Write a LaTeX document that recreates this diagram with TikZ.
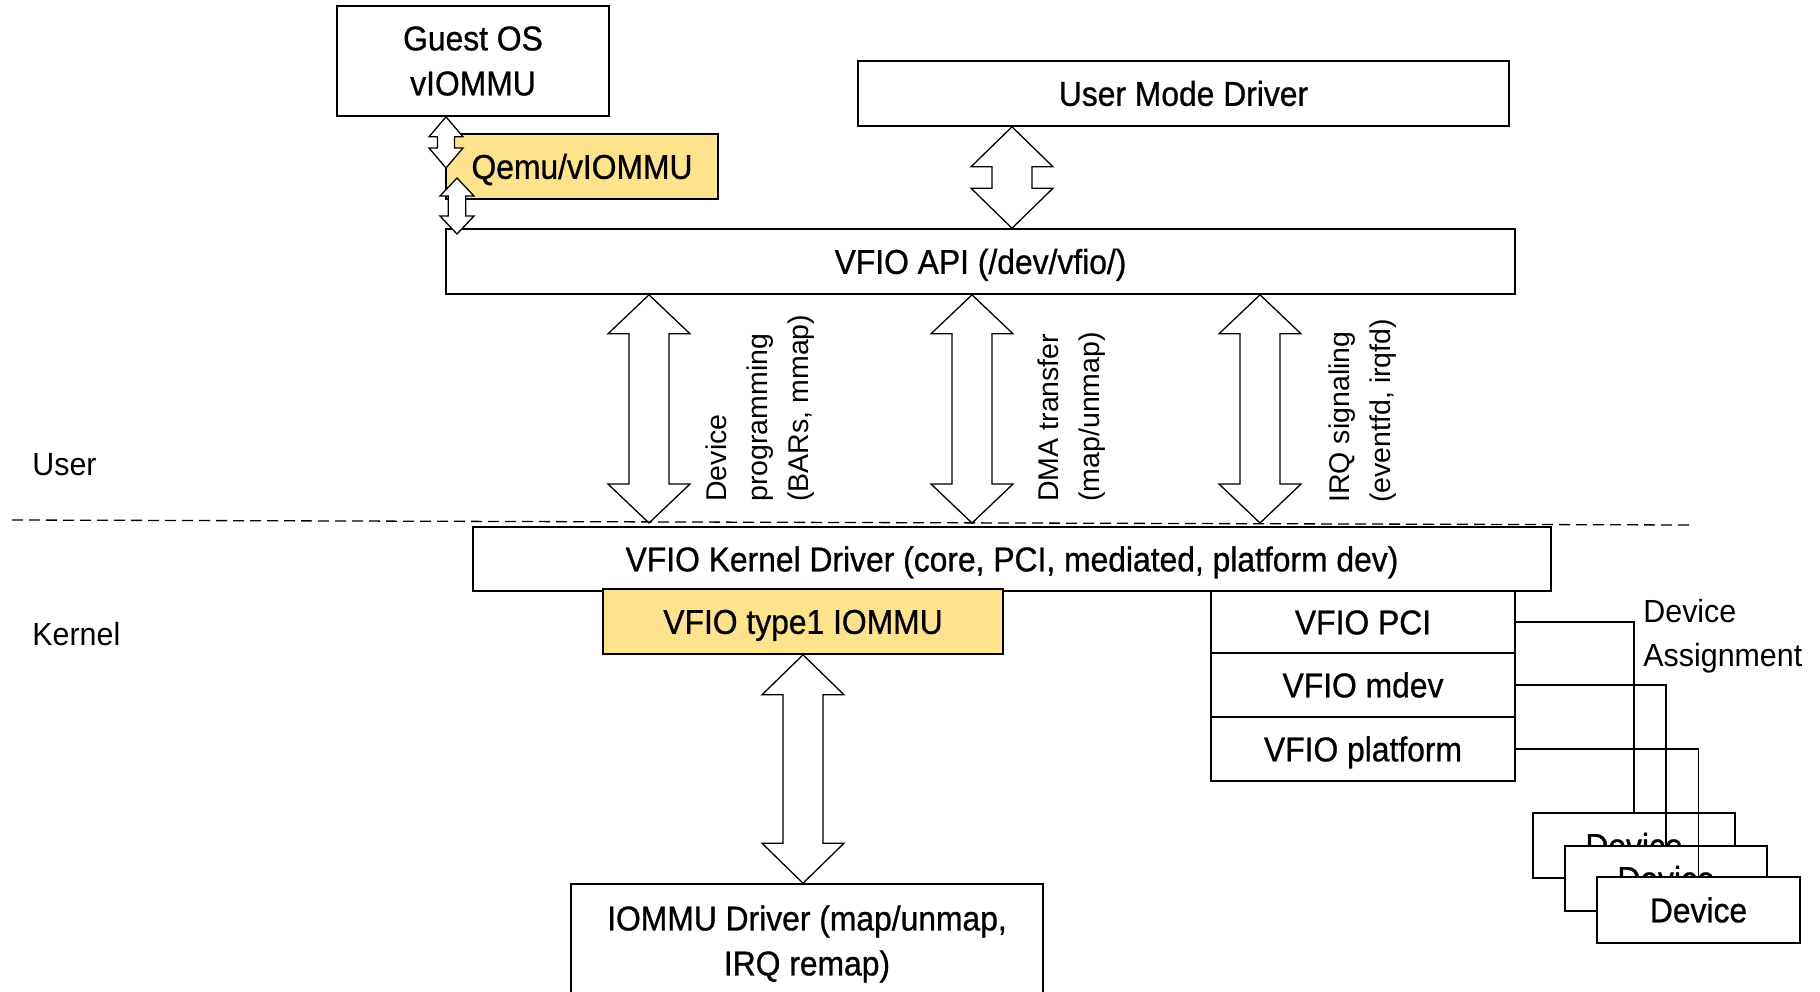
\documentclass[tikz,border=0pt]{standalone}
\usepackage{fontspec}
\setmainfont{Liberation Sans}[FakeStretch=0.95]
\newfontfamily\lblfamily{Liberation Sans}
\newfontfamily\boxfamily{Liberation Sans}[FakeStretch=0.925, FakeBold=0.8]
\usetikzlibrary{calc}
\definecolor{qyellow}{RGB}{255,227,140}
\newcommand\bxfont{\boxfamily\fontsize{17.2}{22.5}\selectfont}
\newcommand\sdfont{\fontsize{16}{22}\selectfont}
\newcommand\lbfont{\lblfamily\fontsize{14.25}{20.5}\selectfont}
\newcommand\blockarrow[5]{%
  \draw[barrow] let \p1=#1, \p2=#2 in
    (\x1,\y1) -- (\x1+#3,\y1-#5) -- (\x1+#4,\y1-#5) -- (\x1+#4,\y2+#5)
    -- (\x1+#3,\y2+#5) -- (\x1,\y2) -- (\x1-#3,\y2+#5) -- (\x1-#4,\y2+#5)
    -- (\x1-#4,\y1-#5) -- (\x1-#3,\y1-#5) -- cycle;}
\tikzset{
  box/.style={draw, line width=0.8pt, fill=white, inner sep=0pt, align=center, font=\bxfont},
  ybox/.style={box, fill=qyellow},
  sbox/.style={box, line width=1.1pt},
  one/.style={text height=12.3pt, text depth=0pt},
  barrow/.style={draw, fill=white, line width=0.65pt, line join=miter},
  conn/.style={line width=0.7pt},
  sep/.style={line width=0.65pt, dash pattern=on 5.5pt off 3pt},
  lbl/.style={font=\lbfont, rotate=90, anchor=north west, align=left, inner sep=0pt},
  side/.style={font=\sdfont, inner sep=0pt}
}
\begin{document}
\begin{tikzpicture}[x=0.5pt,y=-0.5pt]
\useasboundingbox (0,0) rectangle (1820,991);

% coordinates for arrow axes and free ends
\coordinate (ax0) at (1012,0);
\coordinate (ax1) at (649,0);
\coordinate (ax2) at (972,0);
\coordinate (ax3) at (1260,0);
\coordinate (b1) at (649,523);
\coordinate (b2) at (972,523);
\coordinate (b3) at (1260,523);
\coordinate (sx1) at (446,0);
\coordinate (s1b) at (446,168);
\coordinate (s2t) at (457,178);
\coordinate (s2b) at (457,234);

% top part
\node[box, minimum width=136pt, minimum height=55pt] (guest) at (473,61) {Guest OS\\vIOMMU};
\node[ybox, one, minimum width=136pt, minimum height=32.5pt] (qemu) at (582,166.5) {Qemu/vIOMMU};
\node[box, one, minimum width=325.5pt, minimum height=32.5pt] (umd) at (1183.5,93.5) {User Mode Driver};
\node[box, one, minimum width=534.5pt, minimum height=32.5pt] (api) at (980.5,261.5) {VFIO API (/dev/vfio/)};

\blockarrow{(guest.south -| sx1)}{(s1b)}{8.5pt}{4.25pt}{10pt}
\blockarrow{(s2t)}{(s2b)}{8.5pt}{4.4pt}{9pt}
\blockarrow{(umd.south -| ax0)}{(api.north -| ax0)}{20.5pt}{10pt}{20pt}

\blockarrow{(api.south -| ax1)}{(b1)}{20.5pt}{10pt}{19.5pt}
\blockarrow{(api.south -| ax2)}{(b2)}{20.5pt}{10pt}{19.5pt}
\blockarrow{(api.south -| ax3)}{(b3)}{20.5pt}{10pt}{19.5pt}

\node[lbl] (l1) at (705,502) {Device\\programming\\(BARs, mmap)};
\node[lbl] (l2) at (1037,502) {DMA transfer\\(map/unmap)};
\node[lbl] (l3) at (1328,503) {IRQ signaling\\(eventfd, irqfd)};

% user / kernel separation
\draw[sep] (12,520) -- (1690,525);
\node[side, anchor=base west] (user) at (32,475) {User};
\node[side, anchor=base west] (kernel) at (32,645) {Kernel};

% kernel part
\node[box, one, minimum width=539pt, minimum height=32pt] (kdrv) at (1012,559) {VFIO Kernel Driver (core, PCI, mediated, platform dev)};
\node[ybox, one, minimum width=200pt, minimum height=32.5pt] (type1) at (803,621.5) {VFIO type1 IOMMU};
\node[sbox, one, minimum width=152pt, minimum height=31pt] (pci) at (1363,622) {VFIO PCI};
\node[sbox, one, minimum width=152pt, minimum height=32pt] (mdev) at (1363,685) {VFIO mdev};
\node[sbox, one, minimum width=152pt, minimum height=32pt] (plat) at (1363,749) {VFIO platform};
\node[box, minimum width=236pt, minimum height=60pt] (iommu) at (807,944) {IOMMU Driver (map/unmap,\\IRQ remap)};

\blockarrow{(type1.south)}{(iommu.north)}{20.5pt}{10pt}{20pt}

% devices
\node[box, one, minimum width=101pt, minimum height=32.5pt] (dev1) at (1634,845.5) {Device};
\node[box, one, minimum width=101pt, minimum height=32.5pt] (dev2) at (1666,878.5) {Device};
\node[box, one, minimum width=101.5pt, minimum height=33pt] (dev3) at (1698.5,910) {Device};

\draw[conn] (pci.east) -| (dev1.north);
\draw[conn] (mdev.east) -| (dev2.north);
\draw[conn] (plat.east) -| (dev3.north);

\node[side, anchor=west, align=left] (assign) at (1643,636.6) {Device\\Assignment};
\end{tikzpicture}
\end{document}
